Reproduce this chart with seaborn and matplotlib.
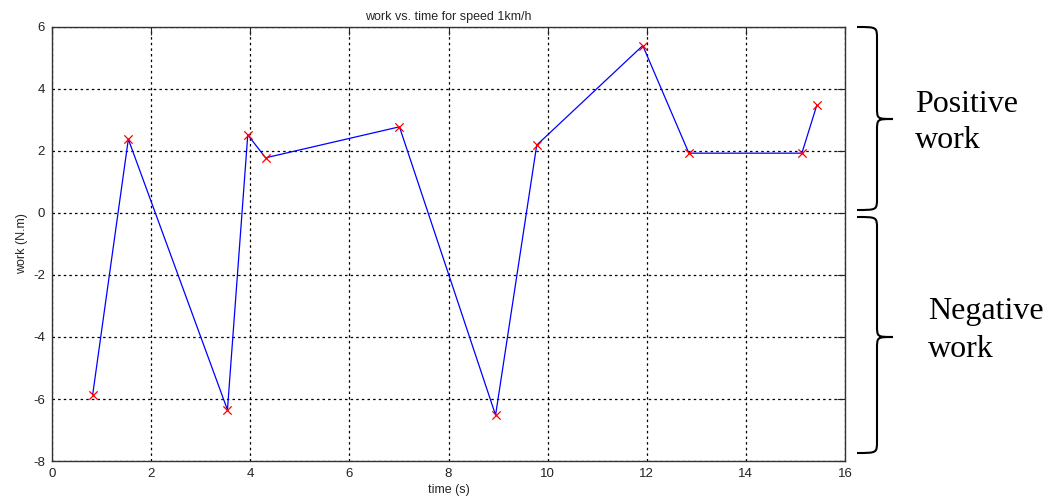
import numpy as np
import pandas as pd
import matplotlib
matplotlib.use("Agg")
import matplotlib.pyplot as plt
import seaborn as sns
from matplotlib.path import Path
from matplotlib.patches import PathPatch

# values
time_s = [0.82, 1.54, 3.54, 3.95, 4.31, 7.01, 8.95, 9.78, 11.92, 12.85, 15.13, 15.43]
work_nm = [-5.87, 2.38, -6.35, 2.52, 1.78, 2.78, -6.52, 2.19, 5.40, 1.93, 1.93, 3.47]

x_ticks = [0, 2, 4, 6, 8, 10, 12, 14, 16]
y_ticks = [-8, -6, -4, -2, 0, 2, 4, 6]

W, H = 1058, 504


def brace(fig, y_top, y_bot, y_mid, x0=857, x1=877, xt=893, r=12):
    """Curly brace in figure pixel coordinates (y measured from top)."""
    pts = [(x0, y_top),
           (x1, y_top), (x1, y_top), (x1, y_top + r),
           (x1, y_mid - r),
           (x1, y_mid), (x1, y_mid), (xt, y_mid),
           (x1, y_mid), (x1, y_mid), (x1, y_mid + r),
           (x1, y_bot - r),
           (x1, y_bot), (x1, y_bot), (x0, y_bot)]
    codes = [Path.MOVETO,
             Path.CURVE4, Path.CURVE4, Path.CURVE4,
             Path.LINETO,
             Path.CURVE4, Path.CURVE4, Path.CURVE4,
             Path.CURVE4, Path.CURVE4, Path.CURVE4,
             Path.LINETO,
             Path.CURVE4, Path.CURVE4, Path.CURVE4]
    verts = [(x / W, 1 - y / H) for x, y in pts]
    patch = PathPatch(Path(verts, codes), transform=fig.transFigure,
                      facecolor='none', edgecolor='black', lw=1.5)
    fig.patches.append(patch)


def label(fig, x, y, s):
    fig.text(x / W, 1 - y / H, s, family='Liberation Serif', fontsize=23,
             va='baseline', ha='left', color='black')


def main():
    df = pd.DataFrame({'time': time_s, 'work': work_nm})

    sns.set_style("white")
    plt.rcParams['font.family'] = ['Liberation Sans', 'DejaVu Sans']
    plt.rcParams['axes.unicode_minus'] = False

    fig = plt.figure(figsize=(W / 100, H / 100), dpi=100)
    ax = fig.add_axes([52 / W, 1 - 461 / H, (845 - 52) / W, (461 - 27) / H])

    sns.lineplot(data=df, x='time', y='work', ax=ax, color='#0000ff',
                 lw=0.9, sort=False, estimator=None)
    sns.scatterplot(data=df, x='time', y='work', ax=ax, color='#ff0000',
                    marker='x', s=36, linewidth=0.9, zorder=3)

    ax.set_xlim(0, 16)
    ax.set_ylim(-8, 6)
    ax.set_xticks(x_ticks)
    ax.set_yticks(y_ticks)
    ax.grid(True, color='black', linestyle=(0, (2, 2.5)), lw=0.9)
    ax.tick_params(direction='in', length=6, width=0.8, labelsize=9.5,
                   top=True, right=True, colors='#222222', pad=5)
    for sp in ax.spines.values():
        sp.set_color('#333333')
        sp.set_linewidth(1.0)

    ax.set_title("work vs. time for speed 1km/h", fontsize=9, pad=5)
    ax.set_xlabel("time (s)", fontsize=9, labelpad=3)
    ax.set_ylabel("work (N.m)", fontsize=9, labelpad=4)

    # annotation braces and labels
    brace(fig, 27, 210, 119)
    brace(fig, 217, 453, 337)
    label(fig, 915, 112, "Positive")
    label(fig, 915, 148, "work")
    label(fig, 928, 319, "Negative")
    label(fig, 928, 357, "work")

    fig.savefig("out.png", dpi=100)
    plt.close(fig)


if __name__ == '__main__':
    main()
